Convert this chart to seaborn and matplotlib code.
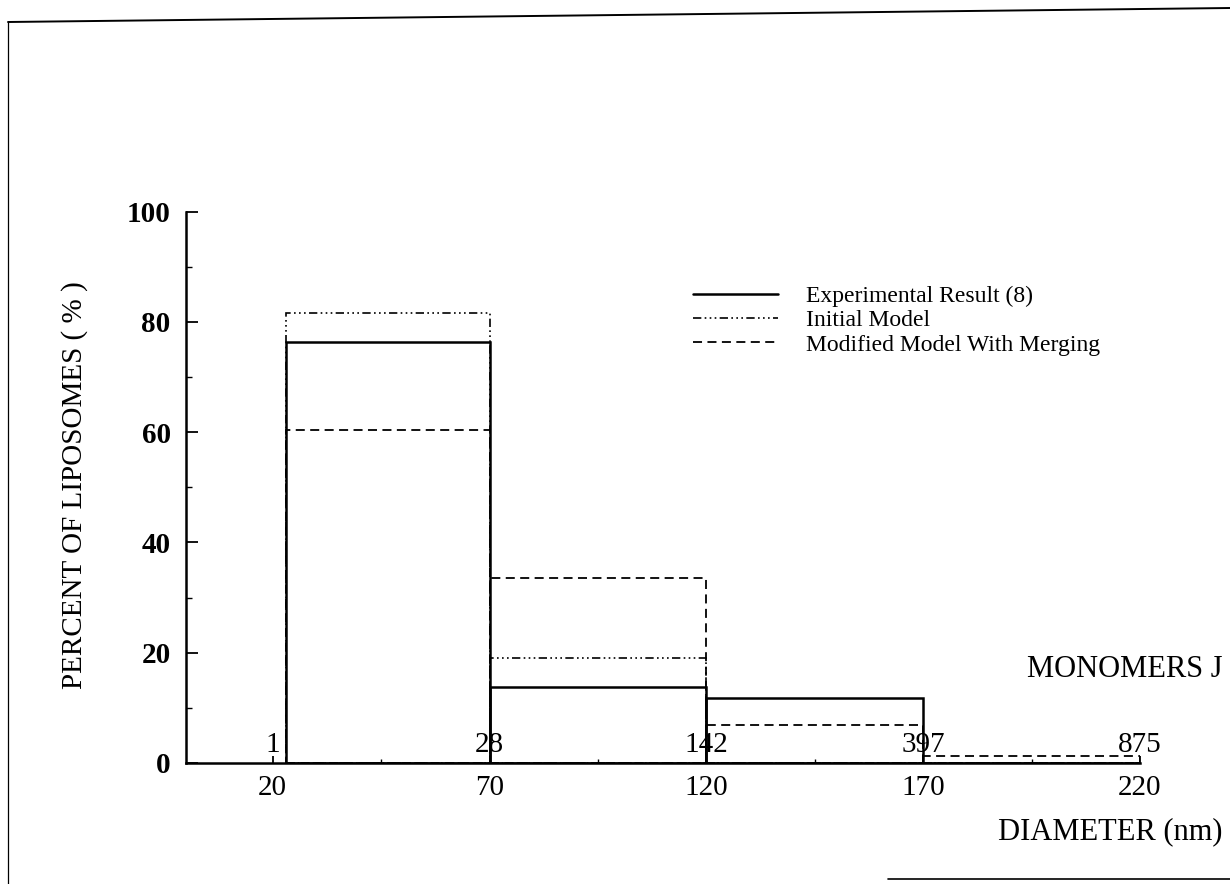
import matplotlib
matplotlib.use("Agg")
import matplotlib.pyplot as plt
import pandas as pd
import seaborn as sns
from matplotlib.lines import Line2D
from matplotlib.ticker import FixedLocator

# Diameter bins (nm) and percentage of liposomes per bin
bin_edges = [23, 70, 120, 170, 220]
experimental = [76.3, 13.8, 11.7, 0.0]
initial_model = [81.6, 19.0, 0.0, 0.0]
merging_model = [60.4, 33.5, 6.8, 1.2]

series_names = ["Experimental Result (8)", "Initial Model", "Modified Model With Merging"]

# Monomer counts J corresponding to each diameter
monomer_positions = [20, 70, 120, 170, 220]
monomer_labels = ["1", "28", "142", "397", "875"]

x_ticks = [20, 70, 120, 170, 220]
x_minor = [45, 95, 145, 195]
y_ticks = [0, 20, 40, 60, 80, 100]
y_minor = [10, 30, 50, 70, 90]

sns.set_style("ticks")
plt.rcParams["font.family"] = ["Liberation Serif", "DejaVu Serif"]
plt.rcParams.update({
    "text.color": "black",
    "axes.labelcolor": "black",
    "xtick.color": "black",
    "ytick.color": "black",
    "axes.edgecolor": "black",
})

centers = [(a + b) / 2 for a, b in zip(bin_edges[:-1], bin_edges[1:])]
frames = []
for name, vals in zip(series_names, [experimental, initial_model, merging_model]):
    frames.append(pd.DataFrame({"series": name, "diameter": centers, "percent": vals}))
df = pd.concat(frames, ignore_index=True)

styles = {
    "Modified Model With Merging": dict(linestyle=(0, (5, 3)), linewidth=1.3),
    "Initial Model": dict(linestyle=(0, (5, 2, 1, 2, 1, 2, 1, 2)), linewidth=1.2),
    "Experimental Result (8)": dict(linestyle="-", linewidth=1.8),
}

fig = plt.figure(figsize=(12.3, 8.84), dpi=100)
ax = fig.add_axes([0.1512, 0.1369, 0.7756, 0.6237])

for name in ["Modified Model With Merging", "Initial Model", "Experimental Result (8)"]:
    sub = df[df["series"] == name]
    sns.histplot(data=sub, x="diameter", weights="percent", bins=bin_edges,
                 element="bars", fill=False, color="black", ax=ax, **styles[name])

ax.set_xlim(0, 220)
ax.set_ylim(0, 100)
sns.despine(ax=ax)
for side in ["left", "bottom"]:
    ax.spines[side].set_linewidth(1.8)
    ax.spines[side].set_color("black")

ax.xaxis.set_major_locator(FixedLocator(x_ticks))
ax.xaxis.set_minor_locator(FixedLocator(x_minor))
ax.yaxis.set_major_locator(FixedLocator(y_ticks))
ax.yaxis.set_minor_locator(FixedLocator(y_minor))
ax.set_xticklabels([str(t) for t in x_ticks])
ax.set_yticklabels([str(t) for t in y_ticks])

ax.tick_params(axis="x", which="major", direction="in", length=5, width=1.3,
               pad=9, labelsize=21, colors="black")
ax.tick_params(axis="x", which="minor", direction="in", length=3, width=1.0)
ax.tick_params(axis="y", which="major", direction="in", length=8.5, width=1.3,
               pad=11, labelsize=21, colors="black")
ax.tick_params(axis="y", which="minor", direction="in", length=4, width=1.0)
for lab in ax.get_yticklabels():
    lab.set_fontweight("bold")

ax.set_ylabel("PERCENT OF LIPOSOMES ( % )", fontsize=21)
ax.yaxis.set_label_coords(-0.103, 0.504)
ax.set_xlabel("DIAMETER (nm)", fontsize=22, ha="right", va="center")
ax.xaxis.set_label_coords(1.086, -0.125)

for xpos, lab in zip(monomer_positions, monomer_labels):
    ax.text(xpos, 2.0, lab, ha="center", va="baseline", fontsize=21)
ax.text(1.086, 0.17, "MONOMERS J", transform=ax.transAxes,
        ha="right", va="center", fontsize=22)

handles = [Line2D([], [], color="black", **styles[n]) for n in series_names]
ax.legend(handles, series_names, loc="upper left", bbox_to_anchor=(0.531, 0.866),
          frameon=False, fontsize=17, handlelength=3.6, handletextpad=1.2,
          labelspacing=0.12, borderpad=0, borderaxespad=0)

# page frame
fig.add_artist(Line2D([8 / 1230, 8 / 1230], [0, 1 - 22 / 884],
                      transform=fig.transFigure, color="black", linewidth=0.9))
fig.add_artist(Line2D([8 / 1230, 1], [1 - 22 / 884, 1 - 8 / 884],
                      transform=fig.transFigure, color="black", linewidth=1.4))
fig.add_artist(Line2D([888 / 1230, 1], [1 - 879 / 884, 1 - 879 / 884],
                      transform=fig.transFigure, color="black", linewidth=1.2))

fig.savefig("out.png", dpi=100, facecolor="white")
